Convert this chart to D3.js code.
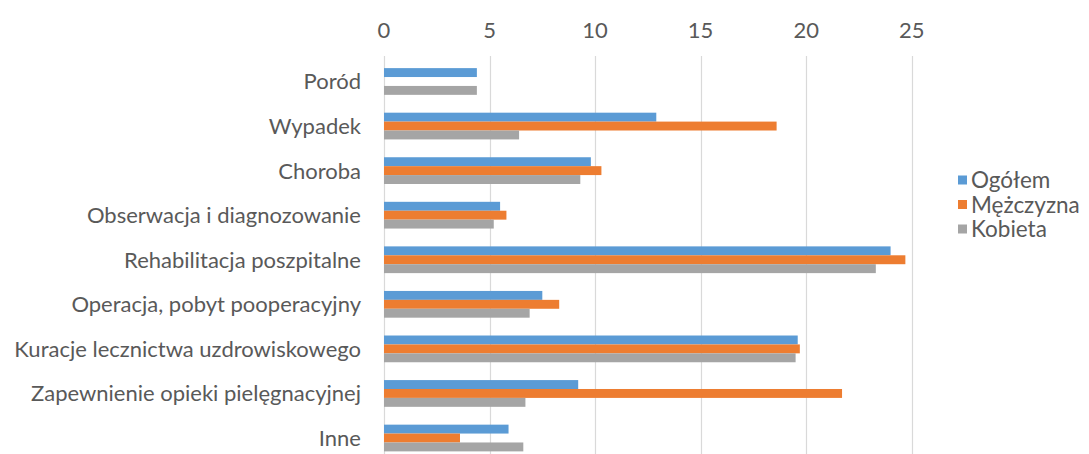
<!DOCTYPE html>
<html>
<head>
<meta charset="utf-8">
<script src="https://cdn.jsdelivr.net/npm/d3@7"></script>
<style>
  html, body { margin: 0; padding: 0; background: #fff; }
  svg { display: block; }
  text { font-family: Lato, "Open Sans", sans-serif; fill: #595959; }
</style>
</head>
<body>
<svg id="chart" width="1089" height="454"></svg>
<script>
const categories = [
  "Poród",
  "Wypadek",
  "Choroba",
  "Obserwacja i diagnozowanie",
  "Rehabilitacja poszpitalne",
  "Operacja, pobyt pooperacyjny ",
  "Kuracje lecznictwa uzdrowiskowego",
  "Zapewnienie opieki pielęgnacyjnej",
  "Inne"
];
const seriesNames = ["Ogółem", "Mężczyzna", "Kobieta"];
const ogolem    = [4.4, 12.9, 9.8, 5.5, 24.0, 7.5, 19.6, 9.2, 5.9];
const mezczyzna = [null, 18.6, 10.3, 5.8, 24.7, 8.3, 19.7, 21.7, 3.6];
const kobieta   = [4.4, 6.4, 9.3, 5.2, 23.3, 6.9, 19.5, 6.7, 6.6];
const xTicks = [0, 5, 10, 15, 20, 25];
const colors = ["#5b9bd5", "#ed7d31", "#a5a5a5"];

const seriesValues = [ogolem, mezczyzna, kobieta];

const svg = d3.select("#chart");

const x = d3.scaleLinear().domain([0, 25]).range([384, 911.7]);
const y = d3.scaleBand().domain(categories).range([59.2, 460.3])
  .paddingInner(0.4).paddingOuter(0.2);
const ySub = d3.scaleBand().domain(seriesNames).range([0, y.bandwidth()]);

// gridlines
svg.append("g").selectAll("line")
  .data(xTicks)
  .join("line")
  .attr("x1", d => Math.round(x(d)) + 0.5)
  .attr("x2", d => Math.round(x(d)) + 0.5)
  .attr("y1", 56)
  .attr("y2", 460)
  .attr("stroke", "#d9d9d9")
  .attr("stroke-width", 1.2);

// top tick labels
svg.append("g").selectAll("text")
  .data(xTicks)
  .join("text")
  .attr("x", d => x(d))
  .attr("y", 30)
  .attr("dy", "0.36em")
  .attr("text-anchor", "middle")
  .style("font-size", "22px")
  .text(d => d);

// bars
const groups = svg.append("g").selectAll("g")
  .data(categories)
  .join("g")
  .attr("transform", d => `translate(0,${y(d)})`);

groups.selectAll("rect")
  .data((c, i) => seriesNames.map((s, j) => ({ s, j, v: seriesValues[j][i] })).filter(d => d.v != null))
  .join("rect")
  .attr("x", x(0))
  .attr("y", d => ySub(d.s))
  .attr("width", d => x(d.v) - x(0))
  .attr("height", ySub.bandwidth())
  .attr("fill", d => colors[d.j]);

// category labels
svg.append("g").selectAll("text")
  .data(categories)
  .join("text")
  .attr("x", 361)
  .attr("y", d => y(d) + y.bandwidth() / 2)
  .attr("dy", "0.36em")
  .attr("text-anchor", "end")
  .style("font-size", "22px")
  .text(d => d.trimEnd());

// legend
const legend = svg.append("g").selectAll("g")
  .data(seriesNames)
  .join("g")
  .attr("transform", (d, i) => `translate(958,${180 + i * 24.5})`);
legend.append("rect")
  .attr("x", 0).attr("y", -4.5)
  .attr("width", 9).attr("height", 9)
  .attr("fill", (d, i) => colors[i]);
legend.append("text")
  .attr("x", 13)
  .attr("y", 0)
  .attr("dy", "0.36em")
  .style("font-size", "22.5px")
  .text(d => d);
</script>
</body>
</html>
